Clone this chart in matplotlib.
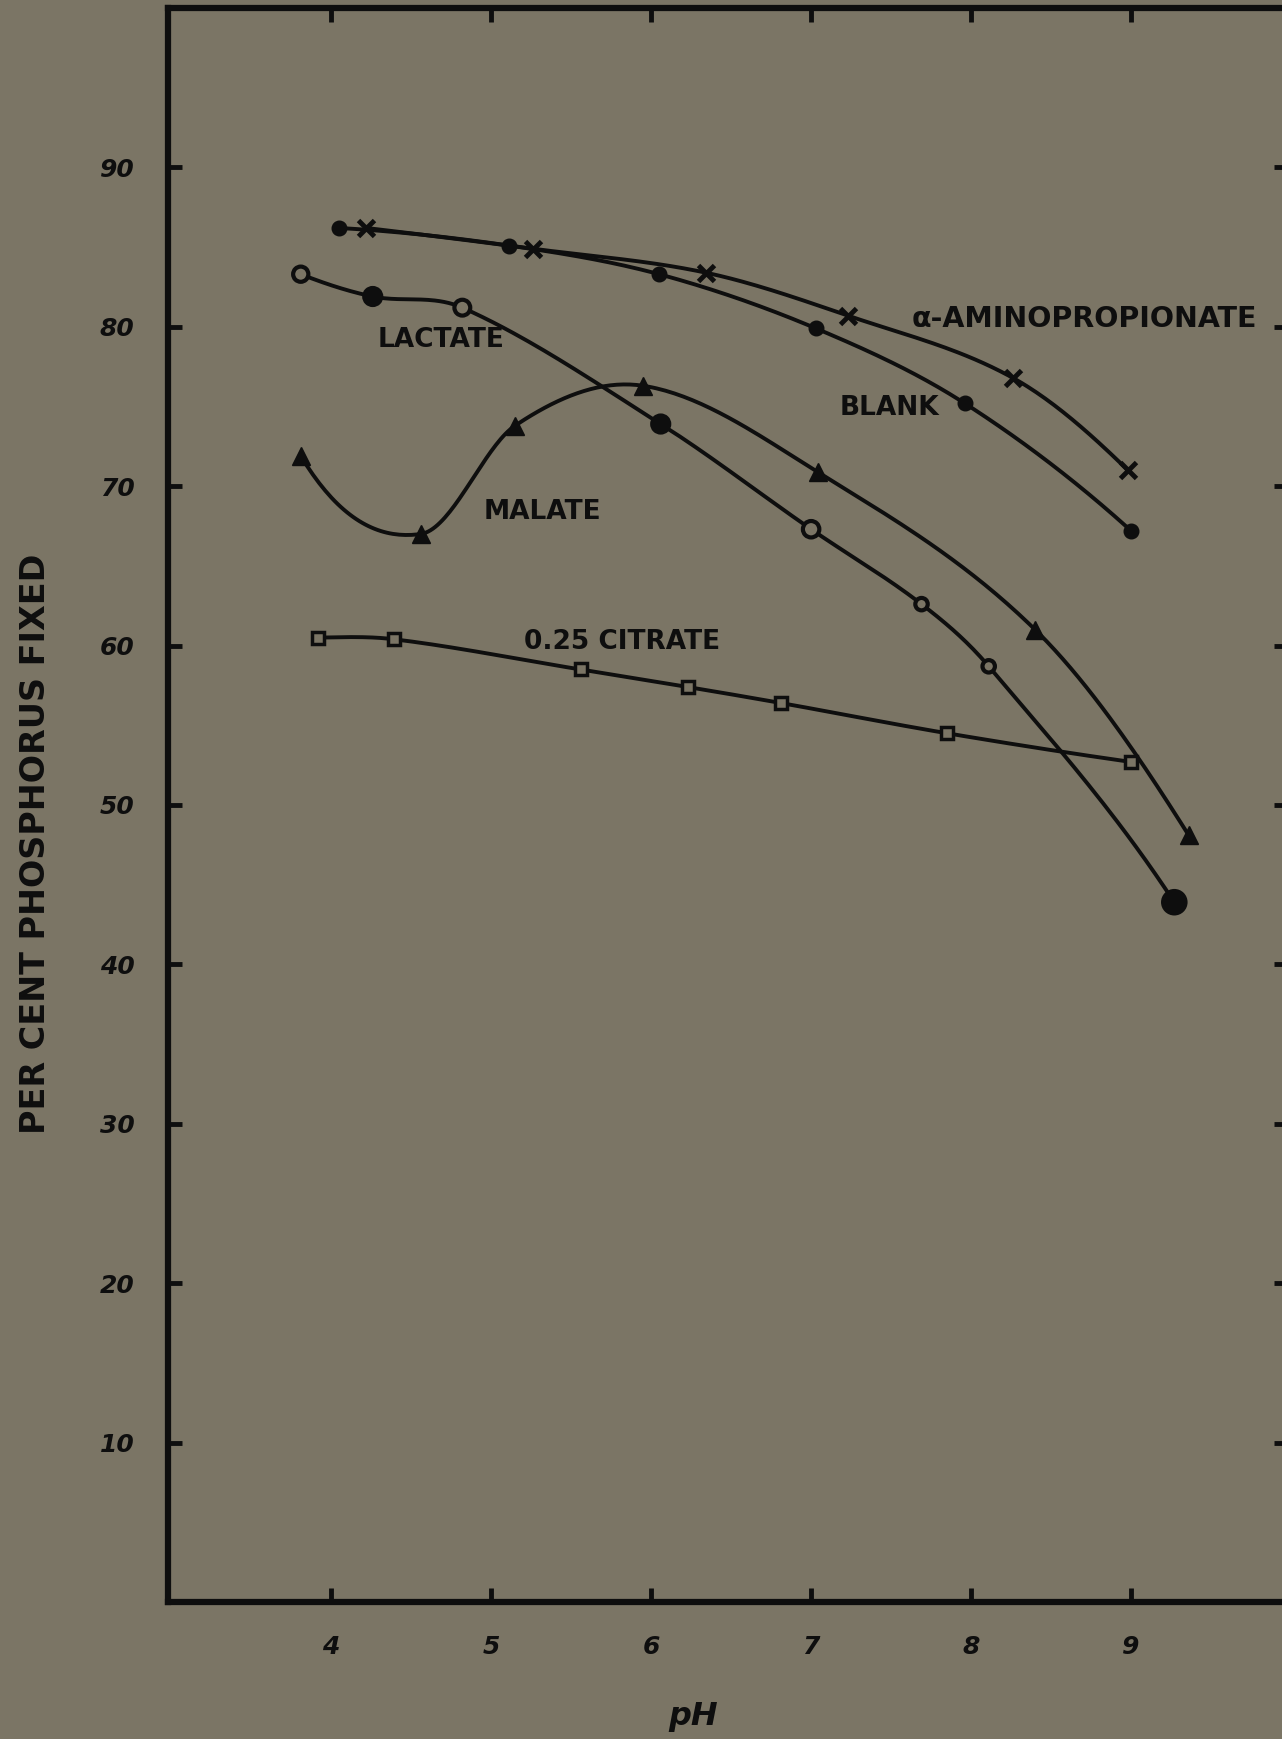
import numpy as np
import matplotlib.pyplot as plt

# values (pH vs per cent phosphorus fixed)
blank_ph = [4.05, 5.11, 6.05, 7.03, 7.96, 9.00]
blank_pct = [86.2, 85.1, 83.3, 79.9, 75.2, 67.2]

amino_ph = [4.22, 5.26, 6.34, 7.23, 8.26, 8.98]
amino_pct = [86.2, 84.9, 83.4, 80.7, 76.8, 71.0]

lactate_ph = [3.81, 4.26, 4.82, 6.06, 7.00, 7.69, 8.11, 9.27]
lactate_pct = [83.3, 81.9, 81.2, 73.9, 67.3, 62.6, 58.7, 43.9]
lactate_filled = [False, True, False, True, False, False, False, True]

malate_ph = [3.81, 4.56, 5.15, 5.95, 7.04, 8.40, 9.36]
malate_pct = [71.9, 67.0, 73.8, 76.3, 70.9, 61.0, 48.1]

citrate_ph = [3.92, 4.39, 5.56, 6.23, 6.81, 7.85, 9.00]
citrate_pct = [60.5, 60.4, 58.5, 57.4, 56.4, 54.5, 52.7]

x_ticks = [4, 5, 6, 7, 8, 9]
y_ticks = [10, 20, 30, 40, 50, 60, 70, 80, 90]

BG = '#7b7565'
INK = '#0e0e0e'


#smooth drawing curve through the points (catmull-rom style hermite)
def smooth(xs, ys, n=40):
    x = np.asarray(xs, float)
    y = np.asarray(ys, float)
    h = np.diff(x)
    d = np.diff(y) / h
    m = np.empty_like(x)
    m[1:-1] = (y[2:] - y[:-2]) / (x[2:] - x[:-2])
    m[0] = d[0] - (d[1] - d[0]) / (x[2] - x[0]) * h[0]
    m[-1] = d[-1] + (d[-1] - d[-2]) / (x[-1] - x[-3]) * h[-1]
    px, py = [], []
    for i in range(len(h)):
        t = np.linspace(0, 1, n)
        h00 = 2*t**3 - 3*t**2 + 1
        h10 = t**3 - 2*t**2 + t
        h01 = -2*t**3 + 3*t**2
        h11 = t**3 - t**2
        px.append(x[i] + t*h[i])
        py.append(h00*y[i] + h10*h[i]*m[i] + h01*y[i+1] + h11*h[i]*m[i+1])
    return np.concatenate(px), np.concatenate(py)


fig = plt.figure(figsize=(12.82, 17.39), dpi=100, facecolor=BG)
ax = fig.add_axes([0.131, 0.0788, 0.8736, 0.9166], facecolor=BG)

lw = 2.8
for xs, ys in [(blank_ph, blank_pct), (amino_ph, amino_pct), (lactate_ph, lactate_pct),
               (malate_ph, malate_pct), (citrate_ph, citrate_pct)]:
    sx, sy = smooth(xs, ys)
    ax.plot(sx, sy, color=INK, lw=lw, solid_capstyle='round', zorder=2)

ax.plot(blank_ph, blank_pct, 'o', ms=10.5, color=INK, zorder=3)
ax.plot(amino_ph, amino_pct, 'x', ms=11, mew=3.5, color=INK, zorder=3)
lac_fc = [INK if f else BG for f in lactate_filled]
lac_sz = [120, 150, 130, 150, 140, 80, 80, 260]
ax.scatter(lactate_ph, lactate_pct, s=lac_sz, marker='o', facecolors=lac_fc,
           edgecolors=INK, linewidths=3, zorder=3)
ax.plot(malate_ph, malate_pct, '^', ms=13, color=INK, zorder=3)
ax.plot(citrate_ph, citrate_pct, 's', ms=8, mfc=BG, mec=INK, mew=2.5, zorder=3)

lab = dict(fontsize=19, fontweight='bold', color=INK, ha='center', va='center')
ax.text(4.69, 79.2, 'LACTATE', **lab)
ax.text(5.32, 68.4, 'MALATE', **lab)
ax.text(5.82, 60.2, '0.25 CITRATE', **lab)
ax.text(7.49, 74.9, 'BLANK', **lab)
ax.text(8.71, 80.5, 'α-AMINOPROPIONATE', fontsize=20.5, fontweight='bold',
        color=INK, ha='center', va='center')

ax.set_xlim(2.98, 9.98)
ax.set_ylim(0, 100)
ax.set_xticks(x_ticks)
ax.set_yticks(y_ticks)
ax.tick_params(direction='in', length=10, width=3.5, color=INK,
               top=True, right=True, labelsize=18, labelcolor=INK)
ax.tick_params(axis='y', pad=24)
ax.tick_params(axis='x', pad=24)
for t in ax.get_xticklabels() + ax.get_yticklabels():
    t.set_fontweight('bold')
    t.set_fontstyle('italic')

for s in ['left', 'bottom', 'top']:
    ax.spines[s].set_linewidth(4.5)
    ax.spines[s].set_color(INK)
ax.spines['right'].set_linewidth(2.5)
ax.spines['right'].set_color(INK)

fig.text(0.0277, 0.515, 'PER CENT PHOSPHORUS FIXED', rotation=90, fontsize=24,
         fontweight='bold', color=INK, ha='center', va='center')
fig.text(0.541, 0.0127, 'pH', fontsize=23, fontweight='bold', fontstyle='italic',
         color=INK, ha='center', va='center')

fig.savefig('out.png', dpi=100, facecolor=BG)
